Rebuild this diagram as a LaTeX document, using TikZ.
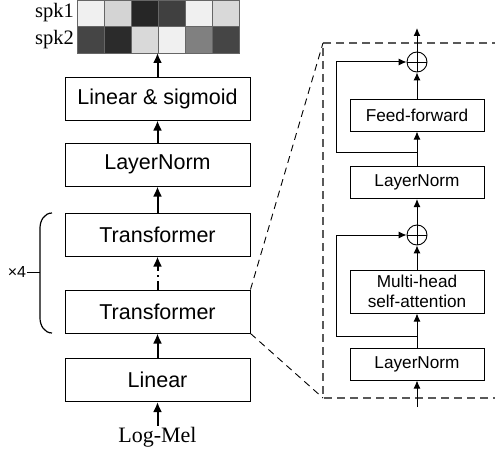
\documentclass[tikz,border=0pt]{standalone}
\usepackage{fontspec}
\setmainfont{Liberation Serif}
\setsansfont{Liberation Sans}
\usepackage{tikz}
\usetikzlibrary{positioning}
\usetikzlibrary{arrows,arrows.meta}
\usetikzlibrary{decorations,decorations.pathreplacing}
\usetikzlibrary{calc}
\tikzstyle{coord} = [coordinate]
\tikzstyle{block} = [draw, line width=1pt, minimum width=185pt, minimum height=43pt, inner sep=0pt, font=\sffamily\fontsize{21.5}{24}\selectfont]
\tikzstyle{sblock} = [draw, line width=1pt, minimum width=134pt, minimum height=32pt, inner sep=0pt, align=center, font=\sffamily\fontsize{17.2}{20}\selectfont]
\tikzstyle{adder} = [draw, circle, line width=0.9pt, minimum size=20pt, inner sep=0pt, path picture={\draw[line width=0.9pt] (path picture bounding box.north) -- (path picture bounding box.south) (path picture bounding box.west) -- (path picture bounding box.east);}]
\tikzstyle{bigarrow} = [line width=2pt, -{Latex[length=10pt,width=9pt]}]
\tikzstyle{smallarrow} = [line width=1pt, -{Latex[length=8pt,width=7pt]}]
\tikzstyle{serif} = [font=\rmfamily\fontsize{20.5}{24}\selectfont]

\begin{document}
\begin{tikzpicture}[x=1pt, y=-1pt, >=latex']
    \useasboundingbox (0,0) rectangle (495,452);

    % output heatmap
    \foreach \g [count=\i from 0] in {6,17,85,75,6,15}
        \draw[draw=black!60, fill=black!\g] (77+27*\i,0) rectangle ++(27,26.5);
    \foreach \g [count=\i from 0] in {73,83,15,6,50,73}
        \draw[draw=black!60, fill=black!\g] (77+27*\i,26.5) rectangle ++(27,26.5);
    \node[serif, anchor=east, inner sep=0pt] (spkA) at (74,13) {spk1};
    \node[serif, anchor=east, inner sep=0pt] (spkB) at (74,40) {spk2};
    \coordinate (hm) at (157.5,53);

    % left stack
    \node[block] (linsig) at (157.5,98.5) {Linear \& sigmoid};
    \node[block] (lnorm) at (157.5,164.5) {LayerNorm};
    \node[block] (transB) at (157.5,234.5) {Transformer};
    \node[block] (transA) at (157.5,311.5) {Transformer};
    \node[block] (linear) at (157.5,380) {Linear};
    \node[font=\rmfamily\fontsize{22}{24}\selectfont, inner sep=1pt] (logmel) at (157.5,437) {Log-Mel};

    \draw[bigarrow] (logmel.north) -- (linear.south);
    \draw[bigarrow] (linear.north) -- (transA.south);
    \draw[bigarrow, dash pattern=on 9pt off 4pt on 2pt off 4pt] (transA.north) -- (transB.south);
    \draw[bigarrow] (transB.north) -- (lnorm.south);
    \draw[bigarrow] (lnorm.north) -- (linsig.south);
    \draw[bigarrow] (linsig.north) -- (hm);

    % repeat bracket
    \coordinate (bt) at (40,272);
    \draw[line width=1.2pt] (52,213) to[out=180,in=90] (40,228) -- (40,318) to[out=-90,in=180] (52,333);
    \node[font=\sffamily\fontsize{16}{18}\selectfont, inner sep=1pt] (rep) at (17,272) {×4};
    \draw[line width=1pt] (rep.east) -- (bt);

    % zoom frame
    \coordinate (ftl) at (323,43);
    \coordinate (fbl) at (323,398);
    \coordinate (ftr) at (500,43);
    \coordinate (fbr) at (500,398);
    \draw[black!65, line width=1.2pt, dash pattern=on 8pt off 5pt] (ftr) -- (ftl) -- (fbl) -- (fbr);
    \draw[line width=0.9pt, dash pattern=on 7pt off 5pt] (transA.north east) -- (ftl);
    \draw[line width=0.9pt, dash pattern=on 7pt off 5pt] (transA.south east) -- (fbl);

    % transformer layer
    \node[sblock] (lnA) at (417,364) {LayerNorm};
    \node[sblock, minimum height=43pt] (mha) at (417,291.5) {Multi-head\\self-attention};
    \node[adder] (addA) at (417,235) {};
    \node[sblock] (lnB) at (417,182.5) {LayerNorm};
    \node[sblock] (ff) at (417,115) {Feed-forward};
    \node[adder] (addB) at (417,62) {};
    \coordinate (inp) at (417,407);
    \coordinate (outp) at (417,28);
    \coordinate (skA) at (417,336);
    \coordinate (skB) at (417,152);

    \draw[smallarrow] (inp) -- (lnA.south);
    \draw[smallarrow] (lnA.north) -- (mha.south);
    \draw[smallarrow] (mha.north) -- (addA.south);
    \draw[smallarrow] (addA.north) -- (lnB.south);
    \draw[smallarrow] (lnB.north) -- (ff.south);
    \draw[smallarrow] (ff.north) -- (addB.south);
    \draw[smallarrow] (addB.north) -- (outp);
    \draw[smallarrow] (skA) -- ++(-81,0) |- (addA.west);
    \draw[smallarrow] (skB) -- ++(-81,0) |- (addB.west);

\end{tikzpicture}
\end{document}
